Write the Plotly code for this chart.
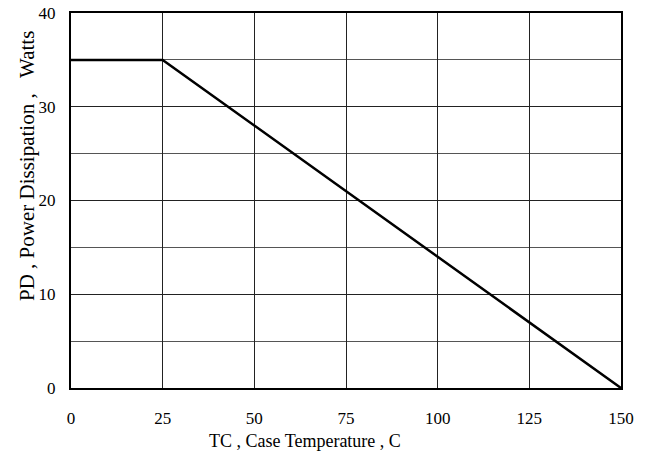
import plotly.graph_objects as go

temp_c = [0, 25, 150]
power_w = [35, 35, 0]
x_ticks = [0, 25, 50, 75, 100, 125, 150]
y_ticks = [0, 10, 20, 30, 40]
x_title = "TC , Case Temperature , C"
y_title = "PD , Power Dissipation ,   Watts"

FONT = "Liberation Serif"

fig = go.Figure()
fig.add_trace(go.Scatter(x=temp_c, y=power_w, mode="lines",
                         line=dict(color="black", width=2.5), showlegend=False))

fig.update_layout(
    width=649, height=457,
    margin=dict(l=71, r=28, t=13, b=69, autoexpand=False),
    paper_bgcolor="white", plot_bgcolor="white",
    font=dict(family=FONT, size=17, color="black"),
    xaxis=dict(range=[0, 150], tickvals=x_ticks, ticktext=[str(v) for v in x_ticks],
               showgrid=True, gridcolor="#222", gridwidth=1,
               showline=True, linecolor="black", linewidth=2, mirror=True,
               zeroline=False, ticks="", ticklabelstandoff=14),
    yaxis=dict(range=[0, 40], tickvals=y_ticks, ticktext=[str(v) for v in y_ticks],
               showgrid=True, gridcolor="#222", gridwidth=1,
               minor=dict(dtick=5, showgrid=True, gridcolor="#555", gridwidth=1),
               showline=True, linecolor="black", linewidth=2, mirror=True,
               zeroline=False, ticks="", ticklabelstandoff=10),
    annotations=[
        dict(text=x_title, xref="paper", yref="paper", x=(305 - 71) / 550, y=-53 / 375,
             xanchor="center", yanchor="middle", showarrow=False, font=dict(size=18)),
        dict(text=y_title, xref="paper", yref="paper", x=(27 - 71) / 550,
             y=1 - (166 - 13) / 375,
             xanchor="center", yanchor="middle", showarrow=False, textangle=-90,
             font=dict(size=21)),
    ],
)

fig.write_html("out.html", config={"displayModeBar": False},
               post_script="document.body.style.margin='0px';")
